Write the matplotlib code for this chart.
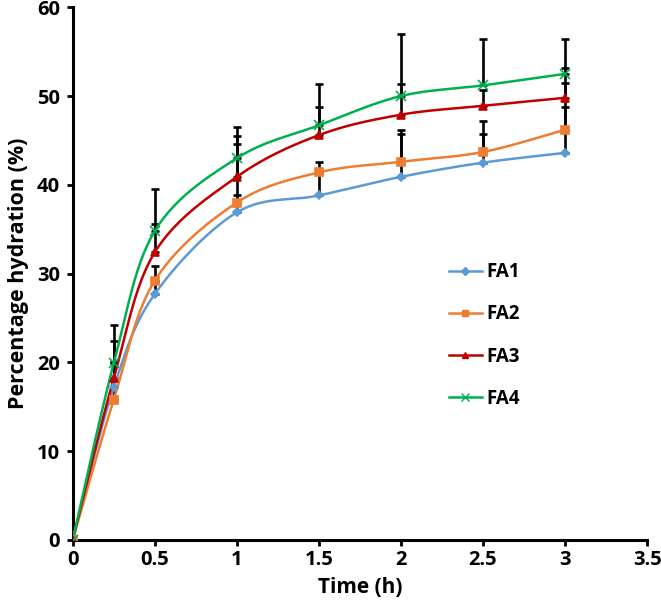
import numpy as np
import matplotlib
matplotlib.use('Agg')
import matplotlib.pyplot as plt

time_h = [0, 0.25, 0.5, 1, 1.5, 2, 2.5, 3]

fa1 = [0, 17.2, 27.7, 36.9, 38.8, 40.9, 42.5, 43.6]
fa2 = [0, 15.8, 29.2, 38.0, 41.4, 42.6, 43.7, 46.2]
fa3 = [0, 18.2, 32.4, 40.9, 45.6, 47.9, 48.9, 49.8]
fa4 = [0, 19.9, 34.8, 43.0, 46.7, 50.0, 51.2, 52.5]

# error bars only go upwards (plus direction)
fa1_err = [0, 2.8, 1.5, 2.0, 2.5, 4.8, 3.2, 5.2]
fa2_err = [0, 4.2, 1.7, 6.6, 1.2, 3.6, 3.5, 5.3]
fa3_err = [0, 4.2, 3.2, 4.6, 3.2, 3.4, 1.8, 3.4]
fa4_err = [0, 4.3, 4.7, 3.5, 4.6, 7.0, 5.2, 3.9]

labels = ['FA1', 'FA2', 'FA3', 'FA4']
series = [fa1, fa2, fa3, fa4]
errors = [fa1_err, fa2_err, fa3_err, fa4_err]
colors = ['#5B9BD5', '#ED7D31', '#C00000', '#00B050']
markers = ['D', 's', '^', 'x']
msizes = [4.5, 6, 6, 7]

plt.rcParams['font.family'] = ['Open Sans', 'DejaVu Sans']
plt.rcParams['font.weight'] = 'bold'


def smooth(x, y, sx, sy, n=30):
    # Excel-style smoothed line (Bezier through points, scaled to screen proportions)
    p = np.column_stack([np.asarray(x) * sx, np.asarray(y) * sy])
    pts = []
    for i in range(len(p) - 1):
        p0 = p[i - 1] if i > 0 else p[i]
        p1 = p[i]
        p2 = p[i + 1]
        p3 = p[i + 2] if i + 2 < len(p) else p[i + 1]
        c1 = p1 + (p2 - p0) / 6
        c2 = p2 - (p3 - p1) / 6
        t = np.linspace(0, 1, n)[:, None]
        b = (1 - t) ** 3 * p1 + 3 * (1 - t) ** 2 * t * c1 + 3 * (1 - t) * t ** 2 * c2 + t ** 3 * p2
        pts.append(b if i == 0 else b[1:])
    pts = np.vstack(pts)
    return pts[:, 0] / sx, pts[:, 1] / sy


fig = plt.figure(figsize=(6.61, 6.04), dpi=100)
ax = fig.add_axes([0.110, 0.106, 0.869, 0.882])

sx = 574 / 3.5
sy = 533 / 60

for y, e in zip(series, errors):
    ax.errorbar(time_h, y, yerr=[np.zeros(len(e)), e], fmt='none', ecolor='black',
                elinewidth=1.9, capsize=3.2, capthick=1.9, zorder=2)

for y, lab, c, m, ms in zip(series, labels, colors, markers, msizes):
    xs, ys = smooth(time_h, y, sx, sy)
    ax.plot(xs, ys, color=c, lw=1.8, zorder=3)
    ax.plot(time_h, y, linestyle='none', marker=m, color=c, ms=ms, mew=1.2, zorder=4)
    ax.plot([], [], color=c, lw=1.8, marker=m, ms=ms * 0.8, label=lab)

ax.set_xlim(0, 3.5)
ax.set_ylim(0, 60)
ax.set_xticks(np.arange(0, 3.51, 0.5))
ax.set_xticklabels(['0', '0.5', '1', '1.5', '2', '2.5', '3', '3.5'])
ax.set_yticks(np.arange(0, 61, 10))

for s in ['top', 'right']:
    ax.spines[s].set_visible(False)
for s in ['left', 'bottom']:
    ax.spines[s].set_linewidth(2.2)
ax.tick_params(width=2.0, length=4, labelsize=14.5)
ax.tick_params(axis='y', pad=5)
for lbl in ax.get_xticklabels() + ax.get_yticklabels():
    lbl.set_fontweight('bold')

ax.set_xlabel('Time (h)', fontsize=15, fontweight='bold', labelpad=5)
ax.set_ylabel('Percentage hydration (%)', fontsize=15.5, fontweight='bold', labelpad=6)

leg = ax.legend(loc='upper left', bbox_to_anchor=(0.625, 0.553), frameon=False,
                fontsize=13.5, handlelength=1.8, handletextpad=0.2, labelspacing=1.18)
for t in leg.get_texts():
    t.set_fontweight('bold')

fig.savefig('out.png', dpi=100)
